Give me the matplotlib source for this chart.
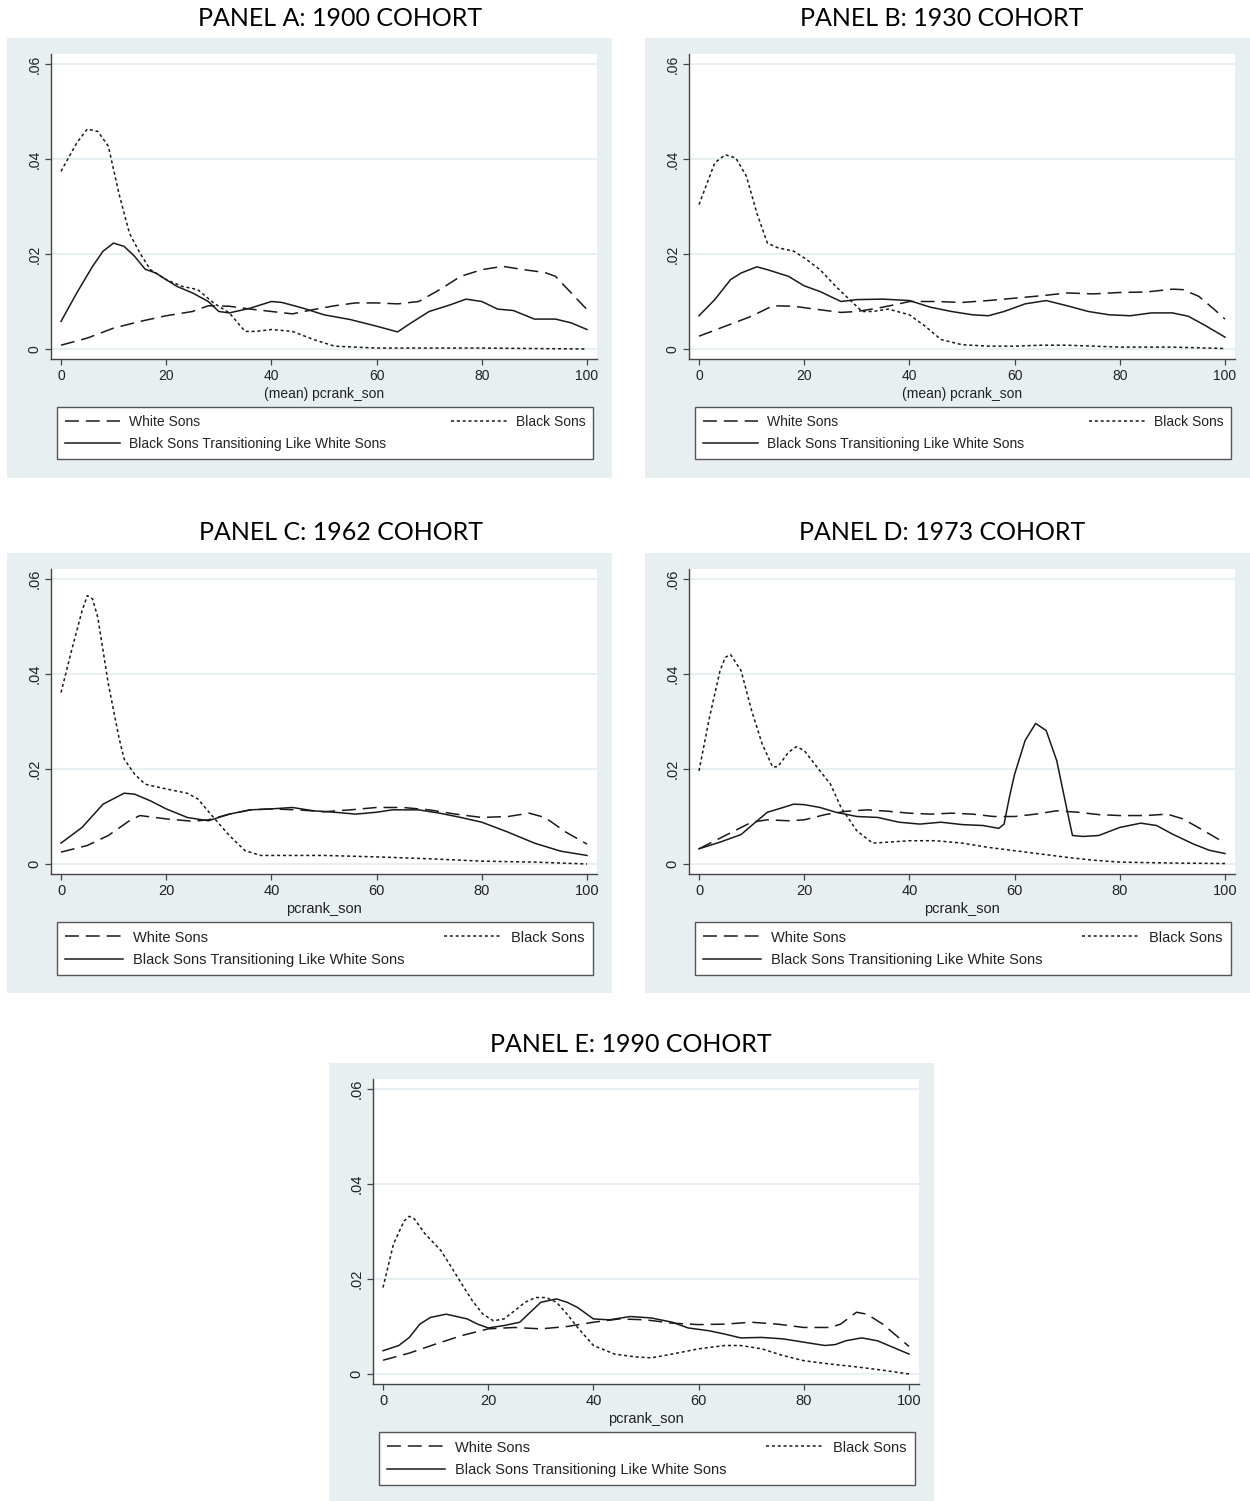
# -*- coding:utf-8 -*-
import matplotlib
matplotlib.use('Agg')
import matplotlib.pyplot as plt
from matplotlib.patches import Rectangle

plt.rcParams['lines.scale_dashes'] = False

# ---- data (x = pcrank_son, y = density) ----
# Panel A: 1900 cohort
a_white_x = [0, 5, 10, 15, 20, 25, 28, 32, 36, 40, 44, 48, 52, 56, 60, 64, 68, 72, 76, 80, 84, 88, 92, 94, 97, 100]
a_white_y = [0.0008, 0.0023, 0.0044, 0.0058, 0.0070, 0.0079, 0.0091, 0.0090, 0.0084, 0.0079, 0.0074, 0.0083, 0.0091,
             0.0097, 0.0097, 0.0095, 0.0100, 0.0125, 0.0153, 0.0167, 0.0174, 0.0167, 0.0161, 0.0153, 0.0118, 0.0083]
a_black_x = [0, 3, 5, 7, 9, 11, 13, 15, 17, 20, 23, 26, 29, 32, 35, 37, 40, 44, 48, 52, 60, 70, 80, 90, 100]
a_black_y = [0.0374, 0.0434, 0.0463, 0.0458, 0.0427, 0.0328, 0.0244, 0.0202, 0.0167, 0.0146, 0.0132, 0.0125, 0.0097,
             0.0076, 0.0037, 0.0037, 0.0041, 0.0037, 0.0020, 0.0006, 0.0002, 0.0002, 0.0002, 0.0001, 0.0000]
a_trans_x = [0, 3, 6, 8, 10, 12, 14, 16, 18, 20, 22, 25, 28, 30, 32, 36, 40, 42, 46, 50, 55, 60, 64, 66, 70, 74, 77,
             80, 83, 86, 90, 94, 97, 100]
a_trans_y = [0.0058, 0.0118, 0.0174, 0.0206, 0.0223, 0.0216, 0.0195, 0.0168, 0.0160, 0.0146, 0.0132, 0.0118, 0.0100,
             0.0079, 0.0076, 0.0086, 0.0100, 0.0098, 0.0086, 0.0072, 0.0062, 0.0048, 0.0036, 0.0051, 0.0079, 0.0093,
             0.0105, 0.0100, 0.0084, 0.0081, 0.0063, 0.0063, 0.0055, 0.0041]

# Panel B: 1930 cohort
b_white_x = [0, 5, 10, 14, 18, 22, 27, 30, 34, 38, 40, 45, 50, 55, 60, 65, 70, 75, 80, 85, 90, 92, 95, 98, 100]
b_white_y = [0.0027, 0.0048, 0.0069, 0.0091, 0.0090, 0.0084, 0.0077, 0.0079, 0.0086, 0.0095, 0.0100, 0.0100, 0.0098,
             0.0102, 0.0107, 0.0112, 0.0118, 0.0116, 0.0119, 0.0120, 0.0126, 0.0125, 0.0111, 0.0083, 0.0063]
b_black_x = [0, 3, 5, 7, 9, 11, 13, 15, 18, 20, 23, 26, 29, 31, 33, 36, 40, 43, 46, 50, 55, 60, 65, 70, 80, 90, 100]
b_black_y = [0.0304, 0.0392, 0.0409, 0.0402, 0.0364, 0.0286, 0.0223, 0.0213, 0.0206, 0.0192, 0.0167, 0.0132, 0.0100,
             0.0079, 0.0079, 0.0084, 0.0072, 0.0048, 0.0020, 0.0009, 0.0006, 0.0006, 0.0008, 0.0008, 0.0004, 0.0004,
             0.0001]
b_trans_x = [0, 3, 6, 8, 11, 13, 15, 17, 20, 23, 27, 30, 35, 40, 44, 48, 52, 55, 58, 62, 66, 70, 74, 78, 82, 86, 90,
             93, 96, 100]
b_trans_y = [0.0070, 0.0104, 0.0146, 0.0160, 0.0173, 0.0167, 0.0160, 0.0153, 0.0133, 0.0121, 0.0100, 0.0104, 0.0105,
             0.0102, 0.0088, 0.0079, 0.0072, 0.0070, 0.0079, 0.0095, 0.0102, 0.0091, 0.0079, 0.0072, 0.0070, 0.0076,
             0.0076, 0.0069, 0.0051, 0.0025]

# Panel C: 1962 cohort
c_white_x = [0, 5, 9, 13, 15, 20, 25, 28, 32, 36, 40, 45, 50, 55, 60, 65, 70, 75, 80, 85, 89, 92, 96, 100]
c_white_y = [0.0025, 0.0039, 0.0060, 0.0091, 0.0102, 0.0095, 0.0090, 0.0093, 0.0105, 0.0114, 0.0116, 0.0114, 0.0110,
             0.0114, 0.0119, 0.0119, 0.0114, 0.0105, 0.0098, 0.0100, 0.0107, 0.0098, 0.0067, 0.0042]
c_black_x = [0, 2, 4, 5, 6, 7, 8, 9, 10, 11, 12, 14, 16, 20, 24, 26, 29, 32, 35, 38, 45, 50, 60, 70, 80, 90, 100]
c_black_y = [0.0361, 0.0449, 0.0533, 0.0565, 0.0558, 0.0519, 0.0449, 0.0379, 0.0323, 0.0267, 0.0221, 0.0189, 0.0168,
             0.0158, 0.0149, 0.0137, 0.0098, 0.0060, 0.0028, 0.0018, 0.0018, 0.0018, 0.0015, 0.0011, 0.0006, 0.0004,
             0.0000]
c_trans_x = [0, 4, 8, 12, 14, 17, 20, 24, 28, 32, 36, 40, 44, 48, 52, 56, 60, 63, 68, 72, 76, 80, 85, 90, 95, 100]
c_trans_y = [0.0044, 0.0077, 0.0126, 0.0149, 0.0147, 0.0133, 0.0116, 0.0098, 0.0091, 0.0105, 0.0114, 0.0116, 0.0119,
             0.0112, 0.0109, 0.0105, 0.0109, 0.0114, 0.0114, 0.0107, 0.0098, 0.0088, 0.0067, 0.0044, 0.0027, 0.0018]

# Panel D: 1973 cohort
d_white_x = [0, 5, 10, 13, 17, 20, 24, 28, 32, 36, 40, 44, 48, 52, 56, 60, 64, 68, 72, 76, 80, 85, 89, 92, 96, 100]
d_white_y = [0.0032, 0.0060, 0.0088, 0.0093, 0.0091, 0.0093, 0.0104, 0.0111, 0.0114, 0.0111, 0.0107, 0.0105, 0.0107,
             0.0105, 0.0100, 0.0100, 0.0105, 0.0112, 0.0109, 0.0104, 0.0102, 0.0102, 0.0105, 0.0095, 0.0070, 0.0044]
d_black_x = [0, 2, 4, 5, 6, 8, 10, 12, 14, 15, 17, 18.5, 20, 23, 25, 27, 30, 33, 36, 40, 45, 50, 55, 60, 65, 70, 75,
             80, 90, 100]
d_black_y = [0.0196, 0.0309, 0.0407, 0.0435, 0.0441, 0.0407, 0.0323, 0.0253, 0.0204, 0.0205, 0.0235, 0.0247, 0.0239,
             0.0196, 0.0168, 0.0119, 0.0070, 0.0044, 0.0046, 0.0049, 0.0049, 0.0044, 0.0035, 0.0028, 0.0021, 0.0014,
             0.0008, 0.0004, 0.0002, 0.0001]
d_trans_x = [0, 4, 8, 10, 13, 16, 18, 20, 23, 26, 30, 34, 38, 42, 46, 50, 54, 57, 58, 59, 60, 62, 64, 66, 68, 70, 71,
             73, 76, 80, 84, 87, 90, 94, 97, 100]
d_trans_y = [0.0032, 0.0046, 0.0062, 0.0081, 0.0109, 0.0119, 0.0126, 0.0125, 0.0119, 0.0109, 0.0100, 0.0098, 0.0088,
             0.0084, 0.0088, 0.0083, 0.0081, 0.0075, 0.0084, 0.0140, 0.0189, 0.0260, 0.0296, 0.0281, 0.0218, 0.0112,
             0.0060, 0.0058, 0.0060, 0.0077, 0.0086, 0.0081, 0.0063, 0.0042, 0.0029, 0.0022]

# Panel E: 1990 cohort
e_white_x = [0, 5, 10, 15, 20, 25, 30, 35, 40, 45, 50, 55, 60, 65, 70, 75, 80, 85, 87, 90, 92, 95, 98, 100]
e_white_y = [0.0029, 0.0044, 0.0063, 0.0081, 0.0095, 0.0098, 0.0095, 0.0100, 0.0109, 0.0116, 0.0114, 0.0107, 0.0104,
             0.0105, 0.0109, 0.0105, 0.0098, 0.0098, 0.0105, 0.0130, 0.0126, 0.0105, 0.0077, 0.0058]
e_black_x = [0, 2, 4, 5, 6, 8, 11, 13, 15, 17, 19, 21, 23, 25, 27, 29, 31, 33, 35, 37, 40, 44, 48, 51, 55, 60, 65, 68,
             72, 76, 80, 85, 90, 95, 100]
e_black_y = [0.0182, 0.0274, 0.0322, 0.0332, 0.0326, 0.0295, 0.0260, 0.0225, 0.0189, 0.0154, 0.0126, 0.0112, 0.0116,
             0.0133, 0.0151, 0.0161, 0.0161, 0.0151, 0.0126, 0.0098, 0.0060, 0.0042, 0.0036, 0.0034, 0.0042, 0.0053,
             0.0060, 0.0060, 0.0053, 0.0039, 0.0028, 0.0021, 0.0015, 0.0008, 0.0000]
e_trans_x = [0, 3, 5, 7, 9, 12, 14, 16, 18, 20, 23, 26, 28, 30, 33, 35, 37, 40, 43, 47, 51, 55, 58, 62, 65, 68, 72,
             76, 80, 84, 86, 88, 91, 94, 97, 100]
e_trans_y = [0.0049, 0.0060, 0.0077, 0.0105, 0.0119, 0.0126, 0.0121, 0.0116, 0.0105, 0.0097, 0.0102, 0.0109, 0.0130,
             0.0151, 0.0158, 0.0151, 0.0140, 0.0116, 0.0114, 0.0121, 0.0118, 0.0109, 0.0097, 0.0091, 0.0084, 0.0076,
             0.0077, 0.0074, 0.0067, 0.0060, 0.0062, 0.0070, 0.0076, 0.0070, 0.0056, 0.0042]

titles = ['PANEL A: 1900 COHORT', 'PANEL B: 1930 COHORT', 'PANEL C: 1962 COHORT',
          'PANEL D: 1973 COHORT', 'PANEL E: 1990 COHORT']
xlabels = ['(mean) pcrank_son', '(mean) pcrank_son', 'pcrank_son', 'pcrank_son', 'pcrank_son']
legend_labels = ['White Sons', 'Black Sons Transitioning Like White Sons', 'Black Sons']
yticks = [0, 0.02, 0.04, 0.06]
ytick_labels = ['0', '.02', '.04', '.06']
xticks = [0, 20, 40, 60, 80, 100]

panels = [
    (a_white_x, a_white_y, a_black_x, a_black_y, a_trans_x, a_trans_y),
    (b_white_x, b_white_y, b_black_x, b_black_y, b_trans_x, b_trans_y),
    (c_white_x, c_white_y, c_black_x, c_black_y, c_trans_x, c_trans_y),
    (d_white_x, d_white_y, d_black_x, d_black_y, d_trans_x, d_trans_y),
    (e_white_x, e_white_y, e_black_x, e_black_y, e_trans_x, e_trans_y),
]

# layout in pixels: bg left, bg top, title centre x, title centre y, font size
W, H = 1250, 1501
layout = [
    (7, 38, 340, 19, 10),
    (645, 38, 942, 19, 10),
    (7, 553, 341, 532, 10.5),
    (645, 553, 942, 532, 10.5),
    (329, 1063, 631, 1044, 10.5),
]

BG = '#E8EFF1'
INK = '#1a1a1a'

fig = plt.figure(figsize=(W / 100, H / 100), dpi=100)
fig.patch.set_facecolor('white')


def fx(px):
    return px / W


def fy(py):
    return 1 - py / H


for i in range(5):
    wx, wy, bx, by, tx, ty = panels[i]
    bl, bt, tcx, tcy, fs = layout[i]
    # panel background (behind the axes)
    fig.patches.append(Rectangle((fx(bl), fy(bt + 440)), 605 / W, 440 / H,
                                 transform=fig.transFigure, facecolor=BG, edgecolor='none', zorder=-5))
    fig.text(fx(tcx), fy(tcy), titles[i], ha='center', va='center', fontsize=18, family='Lato', color='black')

    # plot region
    ax = fig.add_axes([fx(bl + 44), fy(bt + 321), 546 / W, 305 / H])
    ax.set_facecolor('white')
    ax.plot(wx, wy, color=INK, lw=1.1, dashes=(10, 5), label=legend_labels[0])
    ax.plot(tx, ty, color=INK, lw=1.1, label=legend_labels[1])
    ax.plot(bx, by, color=INK, lw=1.1, dashes=(2.2, 2.0), label=legend_labels[2])

    ax.set_xlim(-10 / 5.26, 536 / 5.26)
    ax.set_ylim(-10 / 4750, 0.06 + 10 / 4750)
    ax.set_xticks(xticks)
    ax.set_yticks(yticks)
    ax.set_yticklabels(ytick_labels, rotation=90, va='center')
    for s in ['top', 'right']:
        ax.spines[s].set_visible(False)
    for s in ['left', 'bottom']:
        ax.spines[s].set_color('#444444')
        ax.spines[s].set_linewidth(1.0)
    ax.tick_params(direction='out', length=4, width=0.9, color='#444444', labelsize=fs,
                   labelcolor='#222222', pad=3)
    ax.grid(axis='y', color='#E8EFF1', lw=1.4)
    ax.set_axisbelow(True)
    for lab in ax.get_xticklabels() + ax.get_yticklabels():
        lab.set_family('Liberation Sans')
    ax.set_xlabel(xlabels[i], fontsize=fs, family='Liberation Sans', color='#222222', labelpad=3)

    leg = ax.legend(loc='upper left', ncol=2, mode='expand',
                    bbox_to_anchor=(fx(bl + 50), fy(bt + 371), 536 / W, 0.001),
                    bbox_transform=fig.transFigure, frameon=True, fancybox=False,
                    handlelength=4.0, handletextpad=0.65, borderpad=0.55, labelspacing=0.58,
                    columnspacing=1.0, borderaxespad=0,
                    prop={'family': 'Liberation Sans', 'size': fs})
    leg.get_frame().set_edgecolor('#555555')
    leg.get_frame().set_linewidth(1.0)
    leg.get_frame().set_facecolor('white')
    leg.get_frame().set_alpha(1)
    for t in leg.get_texts():
        t.set_color('#222222')

fig.savefig('out.png', dpi=100, facecolor='white')
